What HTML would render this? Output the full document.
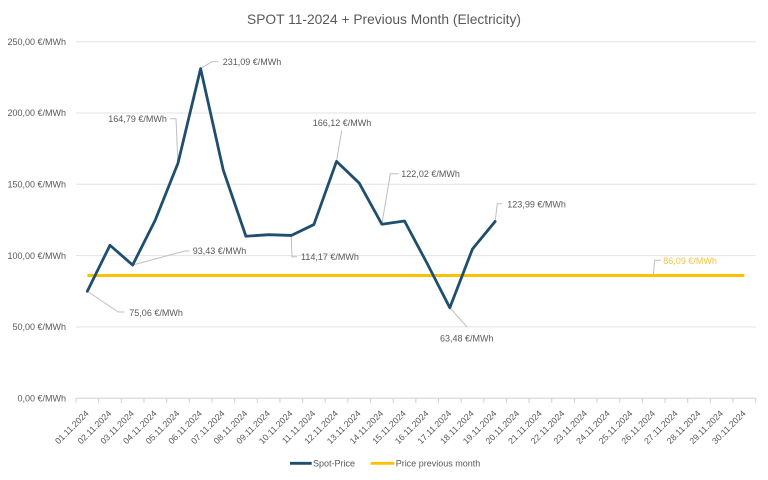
<!DOCTYPE html>
<html>
<head>
<meta charset="utf-8">
<style>
  html,body{margin:0;padding:0;background:#fff;}
  svg{display:block;}
  text{font-family:"Liberation Sans",sans-serif;fill:#595959;}
</style>
</head>
<body>
<svg width="768" height="480" viewBox="0 0 768 480" xmlns="http://www.w3.org/2000/svg">
  <rect width="768" height="480" fill="#fff"/>
  <!-- title -->
  <text x="384" y="24" font-size="14" text-anchor="middle" textLength="274" lengthAdjust="spacingAndGlyphs">SPOT 11-2024 + Previous Month (Electricity)</text>

  <!-- gridlines -->
  <g stroke="#E3E3E3" stroke-width="1">
    <line x1="76" y1="41.7" x2="755.7" y2="41.7"/>
    <line x1="76" y1="113" x2="755.7" y2="113"/>
    <line x1="76" y1="184.3" x2="755.7" y2="184.3"/>
    <line x1="76" y1="255.6" x2="755.7" y2="255.6"/>
    <line x1="76" y1="326.9" x2="755.7" y2="326.9"/>
  </g>
  <!-- axis -->
  <line x1="76" y1="398.3" x2="755.7" y2="398.3" stroke="#D0D0D0" stroke-width="1"/>
  <g stroke="#D0D0D0" stroke-width="1" id="ticks"></g>

  <!-- y labels -->
  <g font-size="9" text-anchor="end">
    <text x="66" y="44.9">250,00 €/MWh</text>
    <text x="66" y="116.2">200,00 €/MWh</text>
    <text x="66" y="187.5">150,00 €/MWh</text>
    <text x="66" y="258.8">100,00 €/MWh</text>
    <text x="66" y="330.1">50,00 €/MWh</text>
    <text x="66" y="401.5">0,00 €/MWh</text>
  </g>

  <!-- x ticks -->
  <g stroke="#D0D0D0" stroke-width="1">
    <line x1="76" y1="398.3" x2="76" y2="403"/>
    <line x1="98.66" y1="398.3" x2="98.66" y2="403"/>
    <line x1="121.31" y1="398.3" x2="121.31" y2="403"/>
    <line x1="143.97" y1="398.3" x2="143.97" y2="403"/>
    <line x1="166.62" y1="398.3" x2="166.62" y2="403"/>
    <line x1="189.28" y1="398.3" x2="189.28" y2="403"/>
    <line x1="211.94" y1="398.3" x2="211.94" y2="403"/>
    <line x1="234.59" y1="398.3" x2="234.59" y2="403"/>
    <line x1="257.25" y1="398.3" x2="257.25" y2="403"/>
    <line x1="279.9" y1="398.3" x2="279.9" y2="403"/>
    <line x1="302.56" y1="398.3" x2="302.56" y2="403"/>
    <line x1="325.22" y1="398.3" x2="325.22" y2="403"/>
    <line x1="347.87" y1="398.3" x2="347.87" y2="403"/>
    <line x1="370.53" y1="398.3" x2="370.53" y2="403"/>
    <line x1="393.18" y1="398.3" x2="393.18" y2="403"/>
    <line x1="415.84" y1="398.3" x2="415.84" y2="403"/>
    <line x1="438.5" y1="398.3" x2="438.5" y2="403"/>
    <line x1="461.15" y1="398.3" x2="461.15" y2="403"/>
    <line x1="483.81" y1="398.3" x2="483.81" y2="403"/>
    <line x1="506.46" y1="398.3" x2="506.46" y2="403"/>
    <line x1="529.12" y1="398.3" x2="529.12" y2="403"/>
    <line x1="551.78" y1="398.3" x2="551.78" y2="403"/>
    <line x1="574.43" y1="398.3" x2="574.43" y2="403"/>
    <line x1="597.09" y1="398.3" x2="597.09" y2="403"/>
    <line x1="619.74" y1="398.3" x2="619.74" y2="403"/>
    <line x1="642.4" y1="398.3" x2="642.4" y2="403"/>
    <line x1="665.06" y1="398.3" x2="665.06" y2="403"/>
    <line x1="687.71" y1="398.3" x2="687.71" y2="403"/>
    <line x1="710.37" y1="398.3" x2="710.37" y2="403"/>
    <line x1="733.02" y1="398.3" x2="733.02" y2="403"/>
    <line x1="755.68" y1="398.3" x2="755.68" y2="403"/>
  </g>

  <!-- x labels -->
  <g font-size="8.8" text-anchor="end">
    <text transform="translate(89.33,414) rotate(-45)">01.11.2024</text>
    <text transform="translate(111.98,414) rotate(-45)">02.11.2024</text>
    <text transform="translate(134.64,414) rotate(-45)">03.11.2024</text>
    <text transform="translate(157.3,414) rotate(-45)">04.11.2024</text>
    <text transform="translate(179.95,414) rotate(-45)">05.11.2024</text>
    <text transform="translate(202.61,414) rotate(-45)">06.11.2024</text>
    <text transform="translate(225.26,414) rotate(-45)">07.11.2024</text>
    <text transform="translate(247.92,414) rotate(-45)">08.11.2024</text>
    <text transform="translate(270.58,414) rotate(-45)">09.11.2024</text>
    <text transform="translate(293.23,414) rotate(-45)">10.11.2024</text>
    <text transform="translate(315.89,414) rotate(-45)">11.11.2024</text>
    <text transform="translate(338.54,414) rotate(-45)">12.11.2024</text>
    <text transform="translate(361.2,414) rotate(-45)">13.11.2024</text>
    <text transform="translate(383.86,414) rotate(-45)">14.11.2024</text>
    <text transform="translate(406.51,414) rotate(-45)">15.11.2024</text>
    <text transform="translate(429.17,414) rotate(-45)">16.11.2024</text>
    <text transform="translate(451.82,414) rotate(-45)">17.11.2024</text>
    <text transform="translate(474.48,414) rotate(-45)">18.11.2024</text>
    <text transform="translate(497.14,414) rotate(-45)">19.11.2024</text>
    <text transform="translate(519.79,414) rotate(-45)">20.11.2024</text>
    <text transform="translate(542.45,414) rotate(-45)">21.11.2024</text>
    <text transform="translate(565.1,414) rotate(-45)">22.11.2024</text>
    <text transform="translate(587.76,414) rotate(-45)">23.11.2024</text>
    <text transform="translate(610.42,414) rotate(-45)">24.11.2024</text>
    <text transform="translate(633.07,414) rotate(-45)">25.11.2024</text>
    <text transform="translate(655.73,414) rotate(-45)">26.11.2024</text>
    <text transform="translate(678.38,414) rotate(-45)">27.11.2024</text>
    <text transform="translate(701.04,414) rotate(-45)">28.11.2024</text>
    <text transform="translate(723.7,414) rotate(-45)">29.11.2024</text>
    <text transform="translate(746.35,414) rotate(-45)">30.11.2024</text>
  </g>

  <!-- orange line -->
  <line x1="87.33" y1="275.5" x2="744.35" y2="275.5" stroke="#FFC000" stroke-width="3"/>

  <!-- leader lines -->
  <g stroke="#BFBFBF" stroke-width="1" fill="none">
    <polyline points="200.61,68.67 211.7,61.7 218.5,61.7"/>
    <polyline points="170,118.7 176,118.7 177.95,163.24"/>
    <polyline points="336.54,161.34 341.7,130.5"/>
    <polyline points="132.64,265.03 185,251 189.5,251"/>
    <polyline points="87.33,291.23 118.3,312 124.5,312"/>
    <polyline points="291.23,235.45 292,256.7 297,256.7"/>
    <polyline points="381.86,224.25 390.3,173.8 398.5,173.8"/>
    <polyline points="495.14,221.44 497.3,203.7 502.5,203.7"/>
    <polyline points="653.3,275.5 654.7,260.3 660.7,260.3"/>
    <polyline points="449.82,307.75 467,327"/>
  </g>

  <!-- blue line -->
  <polyline fill="none" stroke="#1F4E6E" stroke-width="2.8" stroke-linejoin="round" stroke-linecap="round"
    points="87.33,291.23 109.98,245.25 132.64,265.03 155.3,220 177.95,163.24 200.61,68.67 223.26,170.08 245.92,236.26 268.58,234.69 291.23,235.45 313.89,224.56 336.54,161.34 359.2,183.06 381.86,224.25 404.51,221 427.17,263.51 449.82,307.75 472.48,248.96 495.14,221.44"/>

  <!-- data labels -->
  <g font-size="9">
    <text x="222.7" y="64.9">231,09 €/MWh</text>
    <text x="108.3" y="122.2">164,79 €/MWh</text>
    <text x="312.7" y="126.2">166,12 €/MWh</text>
    <text x="192.7" y="254.2">93,43 €/MWh</text>
    <text x="129.3" y="315.9">75,06 €/MWh</text>
    <text x="301" y="259.9">114,17 €/MWh</text>
    <text x="401.3" y="177.2">122,02 €/MWh</text>
    <text x="507.3" y="207.5">123,99 €/MWh</text>
    <text x="440" y="341.5">63,48 €/MWh</text>
    <text x="663.3" y="263.9" style="fill:#F5C342">86,09 €/MWh</text>
  </g>

  <!-- legend -->
  <line x1="290" y1="463.3" x2="311.7" y2="463.3" stroke="#1F4E6E" stroke-width="2.8"/>
  <text x="313" y="466.4" font-size="9">Spot-Price</text>
  <line x1="370.7" y1="463.3" x2="394.3" y2="463.3" stroke="#FFC000" stroke-width="2.8"/>
  <text x="395.7" y="466.4" font-size="9">Price previous month</text>
</svg>
</body>
</html>
